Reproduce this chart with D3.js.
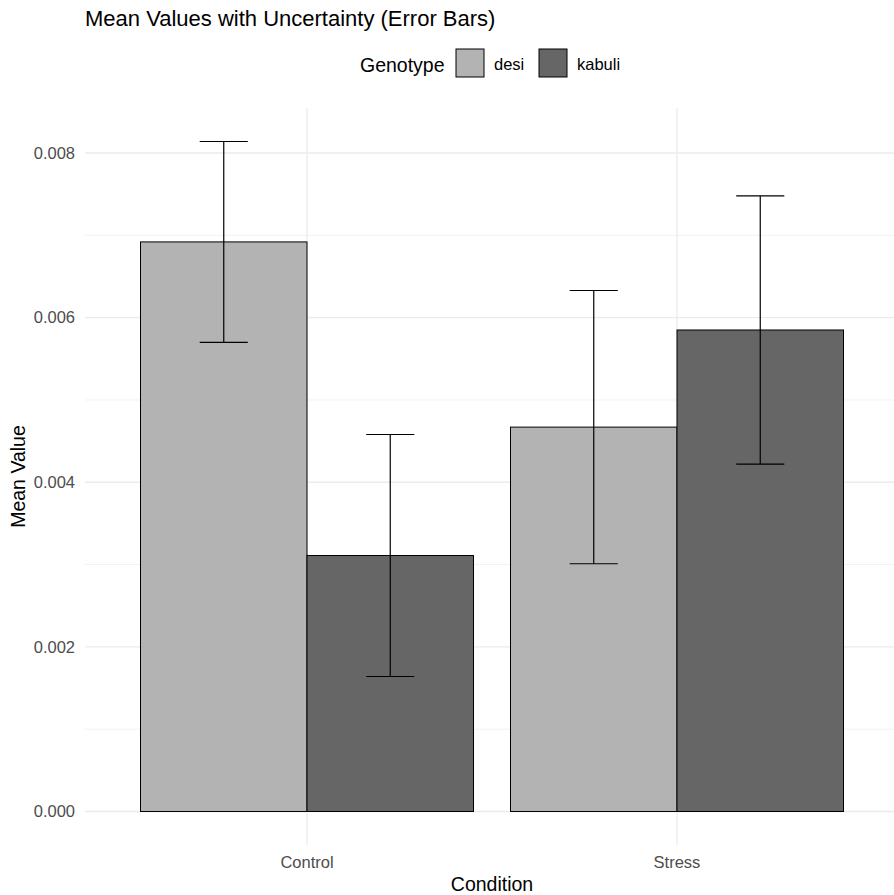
<!DOCTYPE html>
<html>
<head>
<meta charset="utf-8">
<script src="https://cdn.jsdelivr.net/npm/d3@7"></script>
<style>
  html, body { margin: 0; padding: 0; background: #fff; }
  svg { display: block; font-family: "Liberation Sans", Arial, sans-serif; }
</style>
</head>
<body>
<svg id="chart" width="894" height="895"></svg>
<script>
// Mean value per condition and genotype, with the error-bar half width
const conditions = ["Control", "Stress"];
const genotypes = ["desi", "kabuli"];
const desiMean = [0.00692, 0.00467];
const desiErr = [0.00122, 0.00166];
const kabuliMean = [0.00311, 0.00585];
const kabuliErr = [0.00147, 0.00163];
const yTicks = [0, 0.002, 0.004, 0.006, 0.008];
const yMinor = [0.001, 0.003, 0.005, 0.007];
const fills = { desi: "#b3b3b3", kabuli: "#666666" };

const rows = [];
conditions.forEach((c, i) => {
  rows.push({ condition: c, genotype: "desi", mean: desiMean[i], err: desiErr[i] });
  rows.push({ condition: c, genotype: "kabuli", mean: kabuliMean[i], err: kabuliErr[i] });
});

const svg = d3.select("#chart");
const panel = { left: 85, right: 899, top: 108, bottom: 845 };

// y range: data extent (0 .. top of highest error bar) with 5% padding each side
const yMax = d3.max(rows, d => d.mean + d.err);
const pad = yMax * 0.05;
const y = d3.scaleLinear().domain([-pad, yMax + pad]).range([panel.bottom, panel.top]);

// discrete x: categories at 1..n, padded by 0.6 on each side
const xc = d3.scaleLinear().domain([0.4, conditions.length + 0.6]).range([panel.left, panel.right]);
const step = xc(2) - xc(1);
const barW = step * 0.45;

const g = svg.append("g");

// grid
g.selectAll(".minor").data(yMinor).join("line")
  .attr("x1", panel.left).attr("x2", panel.right)
  .attr("y1", d => y(d)).attr("y2", d => y(d))
  .attr("stroke", "#f2f2f2").attr("stroke-width", 1);
g.selectAll(".major").data(yTicks).join("line")
  .attr("x1", panel.left).attr("x2", panel.right)
  .attr("y1", d => y(d)).attr("y2", d => y(d))
  .attr("stroke", "#ebebeb").attr("stroke-width", 1.3);
g.selectAll(".vgrid").data(conditions).join("line")
  .attr("x1", (d, i) => xc(i + 1)).attr("x2", (d, i) => xc(i + 1))
  .attr("y1", panel.top).attr("y2", panel.bottom)
  .attr("stroke", "#ebebeb").attr("stroke-width", 1.3);

// bars
const barX = d => xc(conditions.indexOf(d.condition) + 1) + (d.genotype === "desi" ? -barW : 0);
g.selectAll(".bar").data(rows).join("rect")
  .attr("x", barX)
  .attr("y", d => y(d.mean))
  .attr("width", barW)
  .attr("height", d => y(0) - y(d.mean))
  .attr("fill", d => fills[d.genotype])
  .attr("stroke", "#000").attr("stroke-width", 1);

// error bars
const capHalf = step * 0.065;
const eb = g.selectAll(".eb").data(rows).join("g")
  .attr("transform", d => `translate(${barX(d) + barW / 2},0)`);
eb.append("line").attr("x1", 0).attr("x2", 0)
  .attr("y1", d => y(d.mean + d.err)).attr("y2", d => y(d.mean - d.err))
  .attr("stroke", "#000").attr("stroke-width", 1.2);
eb.append("line").attr("x1", -capHalf).attr("x2", capHalf)
  .attr("y1", d => y(d.mean + d.err)).attr("y2", d => y(d.mean + d.err))
  .attr("stroke", "#000").attr("stroke-width", 1.2);
eb.append("line").attr("x1", -capHalf).attr("x2", capHalf)
  .attr("y1", d => y(d.mean - d.err)).attr("y2", d => y(d.mean - d.err))
  .attr("stroke", "#000").attr("stroke-width", 1.2);

// y tick labels
g.selectAll(".ytl").data(yTicks).join("text")
  .attr("x", 75).attr("y", d => y(d)).attr("dy", "0.35em")
  .attr("text-anchor", "end").attr("font-size", 16.5).attr("fill", "#4d4d4d")
  .text(d3.format(".3f"));

// x tick labels
g.selectAll(".xtl").data(conditions).join("text")
  .attr("x", (d, i) => xc(i + 1)).attr("y", 868)
  .attr("text-anchor", "middle").attr("font-size", 16.5).attr("fill", "#4d4d4d")
  .text(d => d);

// axis titles
svg.append("text").attr("x", (panel.left + panel.right) / 2).attr("y", 891)
  .attr("text-anchor", "middle").attr("font-size", 19.5).attr("fill", "#000")
  .text("Condition");
svg.append("text").attr("transform", `translate(25,${(panel.top + panel.bottom) / 2}) rotate(-90)`)
  .attr("text-anchor", "middle").attr("font-size", 19.5).attr("fill", "#000")
  .text("Mean Value");

// title
svg.append("text").attr("x", 85).attr("y", 26)
  .attr("font-size", 22).attr("fill", "#000")
  .text("Mean Values with Uncertainty (Error Bars)");

// legend
const lg = svg.append("g");
lg.append("text").attr("x", 360).attr("y", 65).attr("dy", "0.35em")
  .attr("font-size", 19.5).attr("fill", "#000").text("Genotype");
const keyX = [456, 539];
genotypes.forEach((gt, i) => {
  lg.append("rect").attr("x", keyX[i]).attr("y", 49).attr("width", 28).attr("height", 28)
    .attr("fill", fills[gt]).attr("stroke", "#000").attr("stroke-width", 1);
  lg.append("text").attr("x", keyX[i] + 38).attr("y", 64).attr("dy", "0.35em")
    .attr("font-size", 16.5).attr("fill", "#000").text(gt);
});
</script>
</body>
</html>
